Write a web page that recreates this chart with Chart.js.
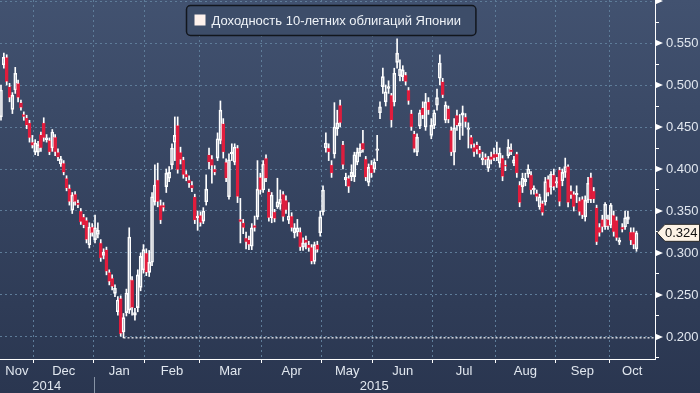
<!DOCTYPE html>
<html lang="ru">
<head>
<meta charset="utf-8">
<title>Доходность 10-летних облигаций Японии</title>
<script src="https://cdn.jsdelivr.net/npm/chart.js@4.4.1/dist/chart.umd.min.js"></script>
<style>
  html, body { margin: 0; padding: 0; background: #2c3953; }
  #wrap { width: 700px; height: 393px; }
</style>
</head>
<body>
<div id="wrap"><canvas id="chart" width="700" height="393"></canvas></div>
<script>
// Доходность 10-летних JGB, дневные свечи (ноябрь 2014 - октябрь 2015)
const seriesName = 'Доходность 10-летних облигаций Японии';

const open = [
  .462,.524,.533,.498,.471,.494,.502,.479,.465,.461,
  .455,.432,.420,.420,.441,.455,.435,.434,.425,.438,
  .420,.406,.407,.389,.377,.351,.370,.360,.350,.343,
  .339,.310,.331,.316,.322,.312,.297,.304,.277,.270,
  .252,.230,.246,.206,.229,.232,.268,.226,.235,.259,
  .280,.300,.277,.289,.361,.387,.357,.357,.379,.389,
  .405,.432,.452,.420,.411,.394,.387,.381,.367,.342,
  .345,.338,.361,.417,.412,.400,.413,.434,.454,.408,
  .367,.418,.408,.425,.340,.336,.318,.316,.308,.333,
  .343,.390,.375,.413,.373,.342,.349,.355,.358,.370,
  .363,.339,.344,.324,.325,.325,.307,.316,.310,.307,
  .290,.310,.324,.349,.425,.425,.405,.418,.448,.476,
  .429,.387,.389,.391,.391,.408,.419,.431,.412,.384,
  .405,.400,.422,.467,.498,.480,.496,.488,.480,.527,
  .511,.510,.512,.494,.466,.442,.420,.451,.473,.450,
  .480,.440,.452,.476,.508,.504,.458,.472,.446,.420,
  .464,.451,.464,.462,.447,.438,.426,.429,.423,.411,
  .414,.401,.415,.418,.418,.407,.413,.405,.416,.423,
  .407,.418,.381,.379,.385,.394,.393,.375,.371,.355,
  .359,.361,.388,.378,.393,.383,.399,.386,.396,.403,
  .374,.370,.369,.362,.364,.343,.363,.390,.374,.354,
  .331,.340,.331,.340,.333,.345,.339,.313,.331,.331,
  .340,.325,.325,.305
];
const high = [
  .500,.538,.536,.502,.491,.521,.506,.482,.468,.464,
  .458,.440,.435,.433,.444,.461,.441,.437,.447,.441,
  .424,.415,.410,.392,.381,.372,.373,.363,.353,.346,
  .342,.336,.335,.345,.336,.316,.305,.307,.280,.274,
  .262,.248,.249,.228,.257,.330,.272,.234,.280,.300,
  .310,.305,.303,.372,.405,.407,.363,.360,.400,.403,
  .430,.462,.462,.426,.414,.398,.392,.385,.370,.350,
  .349,.354,.393,.425,.416,.404,.443,.481,.460,.412,
  .418,.430,.430,.428,.365,.340,.325,.320,.335,.344,
  .410,.395,.410,.417,.376,.372,.352,.389,.375,.373,
  .368,.360,.348,.335,.340,.330,.318,.320,.314,.310,
  .313,.314,.350,.380,.443,.430,.410,.479,.470,.482,
  .433,.395,.392,.405,.420,.425,.430,.446,.415,.406,
  .410,.412,.440,.480,.520,.500,.505,.490,.520,.555,
  .530,.523,.515,.497,.470,.445,.442,.470,.480,.490,
  .485,.460,.470,.495,.536,.508,.480,.475,.450,.460,
  .470,.465,.475,.466,.455,.440,.430,.432,.427,.420,
  .418,.415,.420,.425,.432,.425,.416,.410,.435,.430,
  .415,.420,.385,.395,.395,.405,.397,.380,.375,.370,
  .362,.390,.392,.397,.400,.390,.402,.400,.413,.405,
  .380,.373,.380,.366,.367,.368,.390,.395,.378,.357,
  .335,.345,.360,.345,.359,.350,.343,.318,.335,.350,
  .350,.330,.330,.326
];
const low = [
  .458,.520,.500,.480,.466,.490,.480,.470,.458,.448,
  .432,.425,.417,.416,.421,.433,.432,.417,.421,.416,
  .410,.403,.393,.374,.357,.347,.357,.354,.334,.330,
  .312,.306,.320,.312,.318,.290,.293,.274,.262,.256,
  .248,.226,.201,.199,.225,.228,.226,.220,.230,.255,
  .276,.273,.272,.285,.357,.355,.335,.350,.372,.385,
  .400,.410,.395,.406,.389,.386,.378,.373,.335,.327,
  .332,.335,.357,.400,.383,.393,.410,.430,.413,.385,
  .364,.410,.405,.360,.312,.323,.305,.304,.304,.326,
  .340,.370,.372,.385,.338,.336,.337,.353,.352,.338,
  .347,.335,.326,.318,.320,.303,.303,.305,.302,.287,
  .287,.301,.320,.345,.420,.410,.390,.413,.440,.450,
  .400,.380,.372,.386,.385,.405,.415,.420,.386,.380,
  .390,.396,.410,.460,.490,.475,.490,.450,.475,.520,
  .505,.505,.500,.477,.446,.420,.416,.448,.460,.446,
  .465,.436,.448,.470,.500,.485,.455,.455,.416,.405,
  .446,.435,.440,.450,.425,.425,.415,.418,.414,.405,
  .405,.397,.406,.410,.410,.402,.386,.398,.413,.417,
  .404,.390,.355,.372,.380,.390,.370,.370,.362,.352,
  .345,.357,.368,.370,.375,.378,.356,.380,.390,.355,
  .365,.350,.360,.345,.341,.338,.360,.360,.360,.310,
  .320,.325,.328,.328,.330,.320,.315,.310,.325,.328,
  .335,.310,.305,.302
];
const close = [
  .494,.533,.504,.485,.488,.514,.485,.473,.462,.452,
  .437,.428,.431,.429,.425,.437,.437,.420,.444,.420,
  .414,.412,.396,.377,.361,.369,.361,.357,.337,.333,
  .316,.331,.324,.330,.327,.294,.301,.278,.266,.260,
  .258,.244,.204,.223,.252,.319,.235,.229,.274,.296,
  .304,.277,.289,.367,.381,.361,.339,.354,.395,.396,
  .425,.440,.399,.411,.393,.390,.383,.377,.339,.344,
  .336,.350,.376,.408,.404,.396,.436,.470,.420,.389,
  .411,.420,.426,.367,.337,.330,.313,.310,.330,.330,
  .376,.375,.406,.389,.342,.369,.341,.361,.364,.343,
  .351,.344,.330,.330,.330,.307,.312,.312,.306,.290,
  .310,.304,.343,.375,.431,.420,.395,.450,.455,.455,
  .405,.390,.379,.396,.417,.420,.425,.423,.390,.402,
  .395,.408,.424,.474,.510,.492,.498,.458,.514,.538,
  .519,.518,.504,.481,.450,.424,.438,.467,.464,.480,
  .470,.452,.467,.485,.526,.488,.476,.459,.420,.449,
  .452,.455,.467,.456,.449,.429,.420,.423,.418,.413,
  .411,.412,.411,.413,.414,.419,.391,.403,.426,.420,
  .411,.395,.360,.389,.388,.400,.375,.377,.367,.367,
  .348,.385,.372,.394,.379,.385,.361,.396,.403,.360,
  .369,.355,.371,.349,.345,.363,.383,.364,.364,.313,
  .324,.331,.358,.332,.357,.325,.318,.315,.328,.342,
  .343,.315,.310,.324
];

// подписи осей
const monthNames = ['Nov', 'Dec', 'Jan', 'Feb', 'Mar', 'Apr', 'May', 'Jun', 'Jul', 'Aug', 'Sep', 'Oct'];
const monthStart = [0, 12, 33, 51, 70, 92, 113, 131, 152, 174, 195, 214]; // индекс первой свечи месяца
const yearNames = ['2014', '2015'];
const yearStart = [0, 33];
const yTicks = [0.175, 0.2, 0.225, 0.25, 0.275, 0.3, 0.325, 0.35, 0.375, 0.4,
                0.425, 0.45, 0.475, 0.5, 0.525, 0.55, 0.575, 0.6];

// диапазоны осей
const xMin = -0.35, xMax = 229.5;
const yMin = 0.1738, yMax = 0.6012;

const red = '#e11d3d';
const gridColor = '#5e7c99';
const textColor = '#e1e7ef';

const isMajor = v => Math.abs(v * 20 - Math.round(v * 20)) < 1e-6;
const isUp = i => close[i] >= open[i];

const idx = close.map((_, i) => i);
const wickHi = idx.map(i => ({ x: i, y: [Math.max(open[i], close[i]), high[i]] }));
const wickLo = idx.map(i => ({ x: i, y: [low[i], Math.min(open[i], close[i])] }));
const bodies = idx.map(i => ({ x: i, y: [open[i], close[i]] }));

// минимум периода - пунктир до оси
const minLow = Math.min(...low);
const minIdx = low.indexOf(minLow);

// середины месяцев / лет для подписей
const mid = (starts, k) => {
    const lo = k === 0 ? xMin : starts[k] - 0.5;
    const hi = k === starts.length - 1 ? xMax : starts[k + 1] - 0.5;
    return (lo + hi) / 2;
};
const monthMid = monthStart.map((_, k) => mid(monthStart, k));
const yearMid = yearStart.map((_, k) => mid(yearStart, k));

// без внутренних отступов под подписи
const noPad = s => { s.paddingLeft = 0; s.paddingRight = 0; s.paddingTop = 0; s.paddingBottom = 0; };

Chart.defaults.font.family = "'Liberation Sans', Arial, sans-serif";
Chart.defaults.font.size = 13;
Chart.defaults.color = textColor;

const decor = {
    id: 'decor',
    beforeDraw(chart) {
        const { ctx, width, height } = chart;
        const g = ctx.createLinearGradient(0, 0, 0, height);
        g.addColorStop(0, '#425270');
        g.addColorStop(0.55, '#34425e');
        g.addColorStop(1, '#2a3650');
        ctx.save();
        ctx.fillStyle = g;
        ctx.fillRect(0, 0, width, height);
        ctx.restore();
    },
    afterDraw(chart) {
        const { ctx } = chart;
        const y = chart.scales.y;
        const x = chart.scales.x;
        const xy = chart.scales.xYear;
        ctx.save();

        // треугольные метки основных делений
        ctx.fillStyle = '#ffffff';
        yTicks.filter(isMajor).forEach(v => {
            const py = y.getPixelForValue(v);
            ctx.beginPath();
            ctx.moveTo(y.left, py - 3.5);
            ctx.lineTo(y.left + 8, py);
            ctx.lineTo(y.left, py + 3.5);
            ctx.closePath();
            ctx.fill();
        });

        // разделитель лет
        const sx = Math.round(x.getPixelForValue(yearStart[1] - 0.5)) + 0.5;
        ctx.strokeStyle = '#8793a5';
        ctx.lineWidth = 1;
        ctx.beginPath();
        ctx.moveTo(sx, xy.top - 2);
        ctx.lineTo(sx, xy.bottom);
        ctx.stroke();

        // метка последнего значения
        const last = close[close.length - 1];
        const py = y.getPixelForValue(last);
        ctx.beginPath();
        ctx.moveTo(y.left + 2, py);
        ctx.lineTo(y.left + 10, py - 8.5);
        ctx.lineTo(chart.width - 0.5, py - 8.5);
        ctx.lineTo(chart.width - 0.5, py + 8.5);
        ctx.lineTo(y.left + 10, py + 8.5);
        ctx.closePath();
        ctx.fillStyle = '#fdf3e6';
        ctx.fill();
        ctx.strokeStyle = '#2a2a2a';
        ctx.stroke();
        ctx.fillStyle = '#111111';
        ctx.font = "13px 'Liberation Sans', Arial, sans-serif";
        ctx.textBaseline = 'middle';
        ctx.textAlign = 'left';
        ctx.fillText(last.toFixed(3), y.left + 10, py + 1);

        // легенда в рамке
        const tw = ctx.measureText(seriesName).width;
        const bw = tw + 40, bh = 30;
        const bx = Math.round((chart.chartArea.left + chart.chartArea.right) / 2 - bw / 2 + 3) + 0.5;
        const by = 5.5;
        ctx.beginPath();
        ctx.roundRect(bx, by, bw, bh, 4);
        ctx.fillStyle = '#3d4d69';
        ctx.fill();
        ctx.strokeStyle = '#12161d';
        ctx.lineWidth = 1.5;
        ctx.stroke();
        ctx.fillStyle = '#fdf1ec';
        ctx.fillRect(bx + 8, by + 9, 11, 11);
        ctx.fillStyle = '#eef2f7';
        ctx.fillText(seriesName, bx + 25, by + bh / 2 + 1);

        ctx.restore();
    }
};

new Chart(document.getElementById('chart'), {
    type: 'bar',
    data: {
        datasets: [
            {
                label: 'high',
                data: wickHi,
                backgroundColor: '#ffffff',
                barThickness: 1,
                grouped: false,
                xAxisID: 'x',
                yAxisID: 'y'
            },
            {
                label: 'low',
                data: wickLo,
                backgroundColor: '#ffffff',
                barThickness: 1,
                grouped: false,
                xAxisID: 'x',
                yAxisID: 'y'
            },
            {
                label: seriesName,
                data: bodies,
                backgroundColor: c => isUp(c.dataIndex) ? 'rgba(0,0,0,0)' : red,
                borderColor: c => isUp(c.dataIndex) ? '#ffffff' : red,
                borderWidth: 1,
                borderSkipped: false,
                barThickness: 3,
                grouped: false,
                xAxisID: 'x',
                yAxisID: 'y'
            },
            {
                type: 'line',
                label: 'min',
                data: [{ x: minIdx, y: minLow }, { x: xMax, y: minLow }],
                borderColor: '#ffffff',
                borderWidth: 1.2,
                borderDash: [2, 2],
                pointRadius: 0,
                xAxisID: 'x',
                yAxisID: 'y'
            }
        ]
    },
    options: {
        responsive: false,
        devicePixelRatio: 1,
        animation: false,
        layout: { padding: 0 },
        plugins: {
            legend: { display: false },
            tooltip: { enabled: false }
        },
        scales: {
            x: {
                type: 'linear',
                position: 'bottom',
                weight: 0,
                offset: false,
                min: xMin,
                max: xMax,
                afterBuildTicks: s => { s.ticks = monthStart.slice(1).map(v => ({ value: v - 0.5 })); },
                afterFit: s => { s.height = 4; noPad(s); },
                ticks: { display: false },
                grid: { offset: false, color: gridColor, tickColor: '#ffffff', tickLength: 4 },
                border: { color: '#ffffff', width: 1, dash: [2, 3] }
            },
            xMonth: {
                type: 'linear',
                axis: 'x',
                position: 'bottom',
                weight: 1,
                offset: false,
                min: xMin,
                max: xMax,
                afterBuildTicks: s => { s.ticks = monthMid.map(v => ({ value: v })); },
                afterFit: s => { s.height = 16; noPad(s); },
                ticks: { autoSkip: false, maxRotation: 0, padding: 1, callback: (v, i) => monthNames[i] },
                grid: { display: false, drawTicks: false, offset: false },
                border: { display: false }
            },
            xYear: {
                type: 'linear',
                axis: 'x',
                position: 'bottom',
                weight: 2,
                offset: false,
                min: xMin,
                max: xMax,
                afterBuildTicks: s => { s.ticks = yearMid.map(v => ({ value: v })); },
                afterFit: s => { s.height = 14; noPad(s); },
                ticks: { autoSkip: false, maxRotation: 0, padding: 0, callback: (v, i) => yearNames[i] },
                grid: { display: false, drawTicks: false, offset: false },
                border: { display: false }
            },
            y: {
                type: 'linear',
                position: 'right',
                min: yMin,
                max: yMax,
                afterBuildTicks: s => { s.ticks = yTicks.map(v => ({ value: v })); },
                afterFit: s => { s.width = 45; noPad(s); },
                ticks: {
                    autoSkip: false,
                    padding: 7,
                    callback: v => (isMajor(v) && v < 0.59) ? v.toFixed(3) : ''
                },
                grid: {
                    color: c => isMajor(c.tick.value) ? gridColor : 'rgba(0,0,0,0)',
                    tickColor: c => isMajor(c.tick.value) ? 'rgba(0,0,0,0)' : '#ffffff',
                    tickLength: 4
                },
                border: { color: '#ffffff', width: 1, dash: [2, 3] }
            }
        }
    },
    plugins: [decor]
});
</script>
</body>
</html>
